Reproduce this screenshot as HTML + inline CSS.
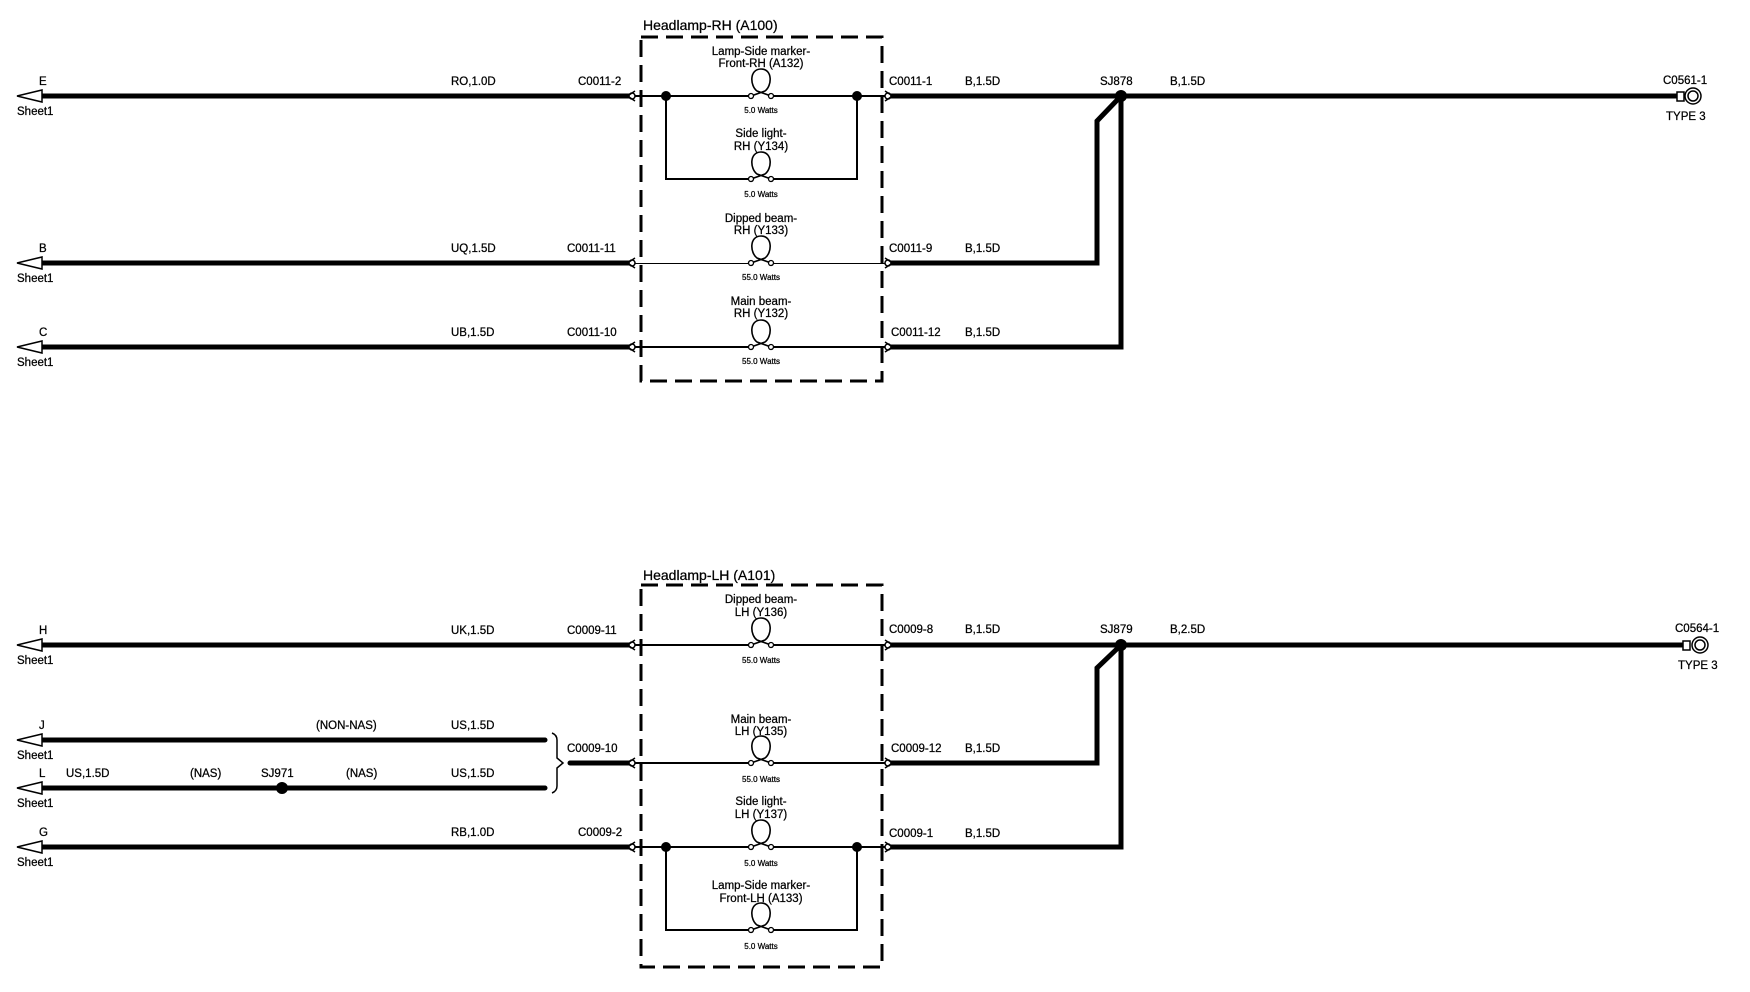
<!DOCTYPE html>
<html><head><meta charset="utf-8"><style>
html,body{margin:0;padding:0;background:#fff;}
svg{display:block;font-family:"Liberation Sans",Arial,sans-serif;}
text{fill:#000;stroke:#000;stroke-width:0.25;}
.l{font-size:11.5px;}
.s{font-size:8px;}
.t{font-size:14px;}
.w{stroke:#000;stroke-width:5;fill:none;}
.n{stroke:#000;stroke-width:2;fill:none;}
.box{stroke:#000;stroke-width:3;fill:none;stroke-dasharray:17 8;}
</style></head><body>
<svg width="1750" height="992" viewBox="0 0 1750 992" xmlns="http://www.w3.org/2000/svg">
<defs>
<g id="lamp">
<path d="M-10,0 L4,-5 C11,-10 12,-27 0,-27 C-12,-27 -11,-10 -4,-5 L10,0" stroke="#000" stroke-width="1.6" fill="none"/>
<circle cx="-10" cy="0" r="2.5" fill="#fff" stroke="#000" stroke-width="1.3"/>
<circle cx="10" cy="0" r="2.5" fill="#fff" stroke="#000" stroke-width="1.3"/>
</g>
<g id="tl"><circle cx="0" cy="0" r="3" fill="#fff" stroke="#000" stroke-width="1.5"/><path d="M3,-5 L-3,-1 M3,5 L-3,1" stroke="#000" stroke-width="1.5"/></g>
<g id="tr"><circle cx="0" cy="0" r="3" fill="#fff" stroke="#000" stroke-width="1.5"/><path d="M-3,-5 L3,-1 M-3,5 L3,1" stroke="#000" stroke-width="1.5"/></g>
<g id="arr"><path d="M17,0 L42,-6 L42,6 Z" fill="#fff" stroke="#000" stroke-width="1.5"/></g>
</defs>

<text class="t" x="643" y="30">Headlamp-RH (A100)</text>
<rect class="box" x="641" y="37" width="241" height="344"/>

<g>
<path class="w" d="M42,96 H630"/><use href="#arr" y="96"/>
<text class="l" x="39" y="85">E</text><text class="l" x="17" y="115">Sheet1</text>
<text class="l" x="451" y="85">RO,1.0D</text><text class="l" x="578" y="85">C0011-2</text>
<use href="#tl" x="632" y="96"/>

<path class="w" d="M42,263 H630"/><use href="#arr" y="263"/>
<text class="l" x="39" y="252">B</text><text class="l" x="17" y="282">Sheet1</text>
<text class="l" x="451" y="252">UQ,1.5D</text><text class="l" x="567" y="252">C0011-11</text>
<use href="#tl" x="632" y="263"/>

<path class="w" d="M42,347 H630"/><use href="#arr" y="347"/>
<text class="l" x="39" y="336">C</text><text class="l" x="17" y="366">Sheet1</text>
<text class="l" x="451" y="336">UB,1.5D</text><text class="l" x="567" y="336">C0011-10</text>
<use href="#tl" x="632" y="347"/>
</g>

<path class="n" d="M635,96 H751 M771,96 H886"/>
<path class="n" d="M666,96 V179 H751 M771,179 H857 V96"/>
<circle cx="666" cy="96" r="5"/><circle cx="857" cy="96" r="5"/>
<use href="#lamp" x="761" y="96"/>
<use href="#lamp" x="761" y="179"/>
<path d="M635,263.5 H751 M771,263.5 H886" stroke="#000" stroke-width="1" fill="none"/>
<use href="#lamp" x="761" y="263"/>
<path class="n" d="M635,347 H751 M771,347 H886"/>
<use href="#lamp" x="761" y="347"/>

<g class="l" text-anchor="middle" font-size="11">
<text x="761" y="55">Lamp-Side marker-</text><text x="761" y="67">Front-RH (A132)</text>
<text x="761" y="137">Side light-</text><text x="761" y="150">RH (Y134)</text>
<text x="761" y="222">Dipped beam-</text><text x="761" y="234">RH (Y133)</text>
<text x="761" y="305">Main beam-</text><text x="761" y="317">RH (Y132)</text>
</g>
<g class="s" text-anchor="middle">
<text x="761" y="113">5.0 Watts</text><text x="761" y="197">5.0 Watts</text>
<text x="761" y="280">55.0 Watts</text><text x="761" y="364">55.0 Watts</text>
</g>

<use href="#tr" x="888" y="96"/><use href="#tr" x="888" y="263"/><use href="#tr" x="888" y="347"/>
<path class="w" d="M891,96 H1677"/>
<path class="w" d="M891,263 H1097 V121 L1121,96"/>
<path class="w" d="M891,347 H1121 V96"/>
<circle cx="1121" cy="96" r="6"/>
<text class="l" x="889" y="85">C0011-1</text><text class="l" x="965" y="85">B,1.5D</text>
<text class="l" x="1100" y="85">SJ878</text><text class="l" x="1170" y="85">B,1.5D</text>
<text class="l" x="889" y="252">C0011-9</text><text class="l" x="965" y="252">B,1.5D</text>
<text class="l" x="891" y="336">C0011-12</text><text class="l" x="965" y="336">B,1.5D</text>
<rect x="1677" y="92" width="7" height="9" fill="#fff" stroke="#000" stroke-width="1.5"/>
<circle cx="1693" cy="96" r="8" fill="#fff" stroke="#000" stroke-width="1.5"/>
<circle cx="1693" cy="96" r="5" fill="#fff" stroke="#000" stroke-width="1.5"/>
<text class="l" x="1663" y="84">C0561-1</text><text class="l" x="1666" y="120">TYPE 3</text>

<text class="t" x="643" y="580">Headlamp-LH (A101)</text>
<rect class="box" x="641" y="585" width="241" height="382"/>

<path class="w" d="M42,645 H630"/><use href="#arr" y="645"/>
<text class="l" x="39" y="634">H</text><text class="l" x="17" y="664">Sheet1</text>
<text class="l" x="451" y="634">UK,1.5D</text><text class="l" x="567" y="634">C0009-11</text>
<use href="#tl" x="632" y="645"/>

<path class="w" d="M42,740 H545" stroke-linecap="round"/><use href="#arr" y="740"/>
<text class="l" x="39" y="729">J</text><text class="l" x="17" y="759">Sheet1</text>
<text class="l" x="316" y="729">(NON-NAS)</text><text class="l" x="451" y="729">US,1.5D</text>

<path class="w" d="M42,788 H545" stroke-linecap="round"/><use href="#arr" y="788"/>
<text class="l" x="39" y="777">L</text><text class="l" x="17" y="807">Sheet1</text>
<text class="l" x="66" y="777">US,1.5D</text><text class="l" x="190" y="777">(NAS)</text>
<text class="l" x="261" y="777">SJ971</text><text class="l" x="346" y="777">(NAS)</text>
<text class="l" x="451" y="777">US,1.5D</text>
<circle cx="282" cy="788" r="6"/>
<path d="M552,733 Q557,735 557,740 V758 L563,763 L557,768 V786 Q557,791 552,793" stroke="#000" stroke-width="1.5" fill="none"/>
<path class="w" d="M570,763 H630" stroke-linecap="round"/>
<text class="l" x="567" y="752">C0009-10</text>
<use href="#tl" x="632" y="763"/>

<path class="w" d="M42,847 H630"/><use href="#arr" y="847"/>
<text class="l" x="39" y="836">G</text><text class="l" x="17" y="866">Sheet1</text>
<text class="l" x="451" y="836">RB,1.0D</text><text class="l" x="578" y="836">C0009-2</text>
<use href="#tl" x="632" y="847"/>

<path class="n" d="M635,645 H751 M771,645 H886"/>
<use href="#lamp" x="761" y="645"/>
<path class="n" d="M635,763 H751 M771,763 H886"/>
<use href="#lamp" x="761" y="763"/>
<path class="n" d="M635,847 H751 M771,847 H886"/>
<path class="n" d="M666,847 V930 H751 M771,930 H857 V847"/>
<circle cx="666" cy="847" r="5"/><circle cx="857" cy="847" r="5"/>
<use href="#lamp" x="761" y="847"/>
<use href="#lamp" x="761" y="930"/>
<g class="l" text-anchor="middle" font-size="11">
<text x="761" y="603">Dipped beam-</text><text x="761" y="616">LH (Y136)</text>
<text x="761" y="723">Main beam-</text><text x="761" y="735">LH (Y135)</text>
<text x="761" y="805">Side light-</text><text x="761" y="818">LH (Y137)</text>
<text x="761" y="889">Lamp-Side marker-</text><text x="761" y="902">Front-LH (A133)</text>
</g>
<g class="s" text-anchor="middle">
<text x="761" y="663">55.0 Watts</text><text x="761" y="782">55.0 Watts</text>
<text x="761" y="866">5.0 Watts</text><text x="761" y="949">5.0 Watts</text>
</g>

<use href="#tr" x="888" y="645"/><use href="#tr" x="888" y="763"/><use href="#tr" x="888" y="847"/>
<path class="w" d="M891,645 H1683"/>
<path class="w" d="M891,763 H1097 V668 L1121,645"/>
<path class="w" d="M891,847 H1121 V645"/>
<circle cx="1121" cy="645" r="6"/>
<text class="l" x="889" y="633">C0009-8</text><text class="l" x="965" y="633">B,1.5D</text>
<text class="l" x="1100" y="633">SJ879</text><text class="l" x="1170" y="633">B,2.5D</text>
<text class="l" x="891" y="752">C0009-12</text><text class="l" x="965" y="752">B,1.5D</text>
<text class="l" x="889" y="837">C0009-1</text><text class="l" x="965" y="837">B,1.5D</text>
<rect x="1683" y="641" width="7" height="9" fill="#fff" stroke="#000" stroke-width="1.5"/>
<circle cx="1700" cy="645" r="8" fill="#fff" stroke="#000" stroke-width="1.5"/>
<circle cx="1700" cy="645" r="5" fill="#fff" stroke="#000" stroke-width="1.5"/>
<text class="l" x="1675" y="632">C0564-1</text><text class="l" x="1678" y="669">TYPE 3</text>
</svg>
</body></html>
